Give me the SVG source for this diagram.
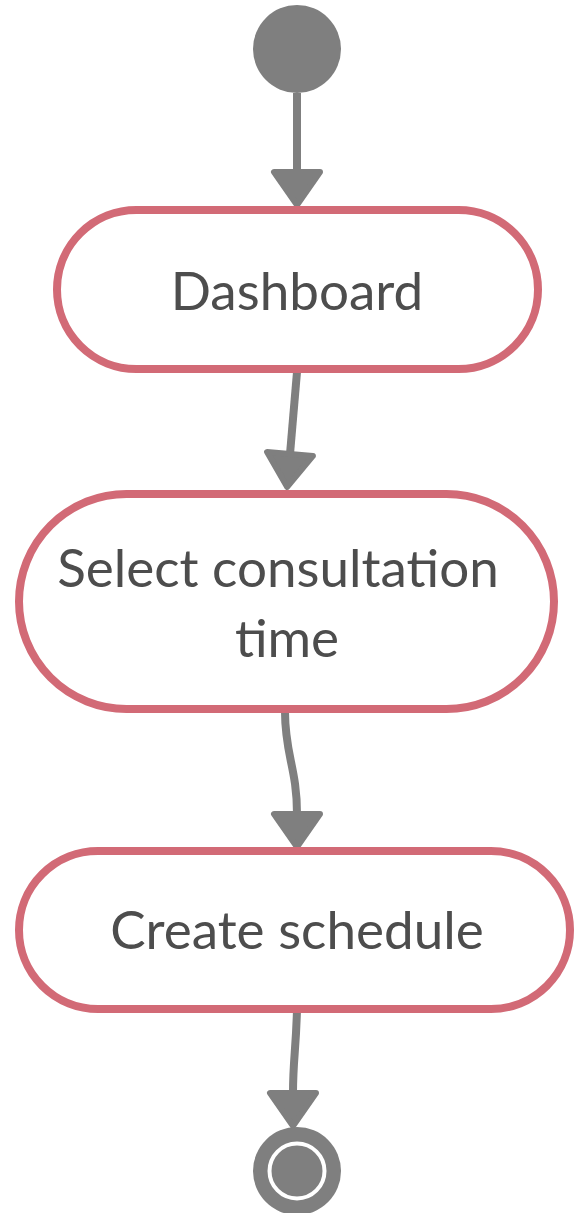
<svg xmlns="http://www.w3.org/2000/svg" width="575" height="1213" viewBox="0 0 575 1213">
  <style>
    .bg { fill: #ffffff; }
    .action { fill: #ffffff; stroke: #d26a76; stroke-width: 8; }
    .label { font-family: Lato, "Open Sans", "Liberation Sans", sans-serif; font-size: 53px; fill: #4d4d4d; text-anchor: middle; }
    .flow { fill: none; stroke: #7f7f7f; stroke-width: 8; stroke-linecap: butt; marker-end: url(#arrow); }
    .dot { fill: #7f7f7f; }
  </style>
  <defs>
    <marker id="arrow" markerUnits="userSpaceOnUse" viewBox="-4 -30 44 60" refX="0" refY="0" markerWidth="44" markerHeight="60" orient="auto">
      <path d="M0,-23 L33,0 L0,23 Z" fill="#7f7f7f" stroke="#7f7f7f" stroke-width="6" stroke-linejoin="round"/>
    </marker>
  </defs>
  <rect class="bg" x="0" y="0" width="575" height="1213"/>

  <g id="connectors">
    <path class="flow" d="M297,93 L297,172"/>
    <path class="flow" d="M297,372 L290,454"/>
    <path class="flow" d="M285,712 C285,755 297,768 297,814"/>
    <path class="flow" d="M297,1009 C296,1050 293,1060 293,1093"/>
  </g>

  <g id="start">
    <circle class="dot" cx="297" cy="49" r="44"/>
  </g>

  <g id="dashboard">
    <rect class="action" x="57" y="210" width="481" height="159" rx="79.5"/>
    <text class="label" x="297" y="310">Dashboard</text>
  </g>

  <g id="select-time">
    <rect class="action" x="19" y="494" width="535" height="215" rx="107.5"/>
    <text class="label" x="278" y="587">Select consultation</text>
    <text class="label" x="287" y="657">time</text>
  </g>

  <g id="create-schedule">
    <rect class="action" x="19" y="851" width="551" height="158" rx="79"/>
    <text class="label" x="297" y="949">Create schedule</text>
  </g>

  <g id="end">
    <circle class="dot" cx="297" cy="1171" r="44"/>
    <circle cx="297" cy="1171" r="27.5" fill="none" stroke="#ffffff" stroke-width="4"/>
  </g>
</svg>
